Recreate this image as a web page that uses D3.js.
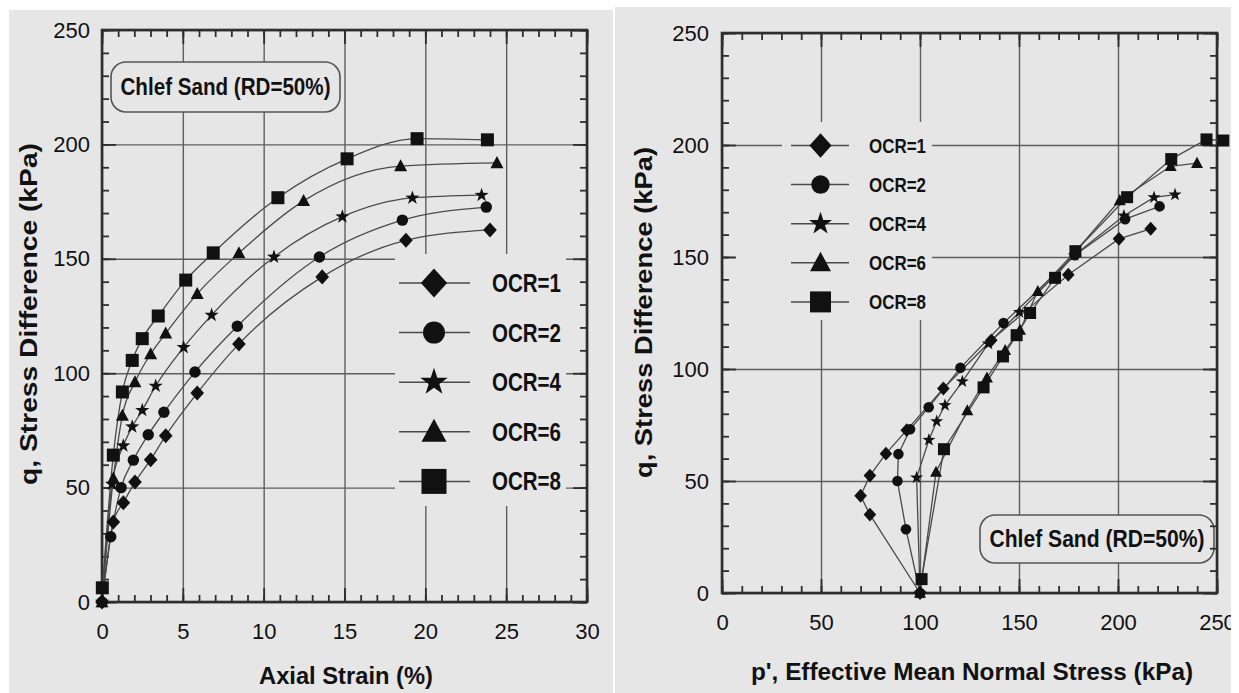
<!DOCTYPE html>
<html>
<head>
<meta charset="utf-8">
<script src="https://cdn.jsdelivr.net/npm/d3@7"></script>
<style>
  html, body { margin: 0; padding: 0; background: #ffffff; }
  svg { display: block; }
</style>
</head>
<body>
<svg id="chart" width="1239" height="693"></svg>
<script>
// Undrained triaxial tests on Chlef sand (RD = 50%) at five overconsolidation ratios.
// Each test: axial strain (%), deviator stress q (kPa), effective mean stress p' (kPa).

const ocrLabels = ["OCR=1", "OCR=2", "OCR=4", "OCR=6", "OCR=8"];
const markerShapes = ["diamond", "circle", "star", "triangle", "square"];

const strainOCR1 = [0, 0.70, 1.32, 2.04, 3.01, 3.94, 5.89, 8.47, 13.62, 18.80, 24.00];
const qOCR1      = [0, 35.0, 43.4, 52.4, 62.2, 72.7, 91.3, 112.8, 142.1, 158.1, 162.6];
const pOCR1      = [100, 74.7, 70.0, 74.7, 82.8, 93.3, 111.8, 136.0, 174.9, 200.5, 216.5];

const strainOCR2 = [0, 0.54, 1.18, 1.94, 2.86, 3.83, 5.75, 8.37, 13.45, 18.58, 23.77];
const qOCR2      = [0, 28.5, 50.0, 62.0, 73.1, 82.9, 100.5, 120.5, 150.8, 166.9, 172.6];
const pOCR2      = [100, 92.9, 88.6, 89.1, 95.0, 104.4, 120.4, 142.2, 178.2, 203.6, 221.0];

const strainOCR4 = [0, 0.62, 1.32, 1.87, 2.49, 3.32, 5.05, 6.78, 10.64, 14.87, 19.20, 23.48];
const qOCR4      = [0, 51.5, 68.3, 76.6, 83.8, 94.4, 111.3, 125.4, 150.8, 168.4, 176.6, 177.8];
const pOCR4      = [100, 98.3, 104.5, 108.4, 112.6, 121.4, 134.5, 150.2, 178.0, 203.0, 218.2, 228.8];

const strainOCR6 = [0, 0.70, 1.26, 2.04, 3.01, 3.94, 5.89, 8.47, 12.47, 18.47, 24.43];
const qOCR6      = [0, 54.0, 81.5, 96.1, 108.4, 117.4, 134.7, 152.5, 175.3, 190.5, 191.9];
const pOCR6      = [100, 108.1, 123.9, 133.8, 143.0, 150.5, 159.5, 178.5, 200.9, 226.6, 239.9];

const strainOCR8 = [0.02, 0.70, 1.26, 1.87, 2.49, 3.48, 5.18, 6.88, 10.88, 15.16, 19.49, 23.84];
const qOCR8      = [6.2, 64.2, 91.8, 105.6, 115.1, 125.0, 140.7, 152.6, 176.7, 193.7, 202.5, 202.0];
const pOCR8      = [100.8, 112.1, 132.1, 141.9, 148.8, 155.6, 168.2, 178.5, 204.6, 226.9, 244.7, 253.2];

const strainTicks = [0, 5, 10, 15, 20, 25, 30];
const pTicks = [0, 50, 100, 150, 200, 250];
const qTicks = [0, 50, 100, 150, 200, 250];

const sampleTitle = "Chlef Sand (RD=50%)";
const qAxisTitle = "q, Stress Difference (kPa)";
const strainAxisTitle = "Axial Strain (%)";
const pAxisTitle = "p', Effective Mean Normal Stress (kPa)";

// ---- tests assembled from the arrays above ----
const tests = [
  { strain: strainOCR1, q: qOCR1, p: pOCR1 },
  { strain: strainOCR2, q: qOCR2, p: pOCR2 },
  { strain: strainOCR4, q: qOCR4, p: pOCR4 },
  { strain: strainOCR6, q: qOCR6, p: pOCR6 },
  { strain: strainOCR8, q: qOCR8, p: pOCR8 }
].map((t, i) => ({
  label: ocrLabels[i],
  shape: markerShapes[i],
  points: t.q.map((q, j) => ({ strain: t.strain[j], q: q, p: t.p[j] }))
}));

// ---- styling ----
const BG = "#e6e6e6";
const INK = "#111111";
const FRAME = "#2e2e2e";
const GRID = "#5e5e5e";
const CURVE = "#4a4a4a";
const NARROW = "'Liberation Sans Narrow','Arial Narrow','Liberation Sans',Arial,sans-serif";
const SANS = "'Liberation Sans',Arial,Helvetica,sans-serif";

// marker path generator; s = nominal half size
function markerPath(shape, s) {
  switch (shape) {
    case "square":
      return `M${-s},${-s}H${s}V${s}H${-s}Z`;
    case "diamond":
      return `M0,${-s * 1.1}L${s},0L0,${s * 1.1}L${-s},0Z`;
    case "circle":
      return `M${s},0A${s},${s} 0 1,1 ${-s},0A${s},${s} 0 1,1 ${s},0Z`;
    case "triangle":
      return `M0,${-s * 1.05}L${s},${s * 0.8}L${-s},${s * 0.8}Z`;
    case "star": {
      const pts = [];
      for (let k = 0; k < 10; k++) {
        const r = k % 2 === 0 ? s * 1.15 : s * 0.45;
        const a = -Math.PI / 2 + k * Math.PI / 5;
        pts.push([r * Math.cos(a), r * Math.sin(a)]);
      }
      return "M" + pts.map(d => d[0].toFixed(2) + "," + d[1].toFixed(2)).join("L") + "Z";
    }
  }
  return "";
}
const markerScale = { square: 1.0, diamond: 1.05, circle: 0.88, triangle: 1.0, star: 1.0 };

const svg = d3.select("#chart");

// panel backgrounds
svg.append("rect").attr("x", 9).attr("y", 10).attr("width", 604).attr("height", 683).attr("fill", BG);
svg.append("rect").attr("x", 615).attr("y", 7).attr("width", 616).attr("height", 686).attr("fill", BG);

svg.append("clipPath").attr("id", "rightClip")
  .append("rect").attr("x", 615).attr("y", 0).attr("width", 616).attr("height", 693);

function drawPanel(cfg) {
  const g = svg.append("g");
  if (cfg.clip) g.attr("clip-path", `url(#${cfg.clip})`);

  const x = d3.scaleLinear().domain(cfg.xDomain).range([cfg.left, cfg.right]);
  const y = d3.scaleLinear().domain([0, 250]).range([cfg.bottom, cfg.top]);
  const w = cfg.right - cfg.left, h = cfg.bottom - cfg.top;

  // grid
  const grid = g.append("g");
  grid.append("g").attr("transform", `translate(0,${cfg.bottom})`)
    .call(d3.axisBottom(x).tickValues(cfg.xTicks).tickSize(-h).tickFormat(""));
  grid.append("g").attr("transform", `translate(${cfg.left},0)`)
    .call(d3.axisLeft(y).tickValues(qTicks).tickSize(-w).tickFormat(""));
  grid.selectAll("path.domain").remove();
  grid.selectAll("line").attr("stroke", GRID).attr("stroke-width", 1.4);

  // legend backing (hides the grid behind the key)
  cfg.legendBacks.forEach(r => {
    g.append("rect").attr("x", r[0]).attr("y", r[1]).attr("width", r[2]).attr("height", r[3]).attr("fill", BG);
  });

  // sample label box
  const b = cfg.titleBox;
  g.append("rect").attr("x", b.x).attr("y", b.y).attr("width", b.w).attr("height", b.h)
    .attr("rx", 15).attr("ry", 15)
    .attr("fill", BG).attr("stroke", "#555").attr("stroke-width", 1.6);
  g.append("text").attr("x", b.x + b.w / 2).attr("y", b.y + b.h / 2)
    .attr("text-anchor", "middle").attr("dominant-baseline", "central")
    .attr("font-family", NARROW).attr("font-weight", "bold").attr("font-size", 23)
    .attr("textLength", b.tw).attr("lengthAdjust", "spacingAndGlyphs")
    .attr("fill", INK).text(sampleTitle);

  // ticks: minor and major, all pointing inward on every side
  const ticks = g.append("g");
  const xMinor = d3.range(cfg.xDomain[0], cfg.xDomain[1] + 1e-9, cfg.xMinorStep);
  const yMinor = d3.range(0, 250 + 1e-9, 10);
  const addAxis = (axis, tr) => {
    const a = ticks.append("g").attr("transform", tr).call(axis);
    a.selectAll("path.domain").remove();
    a.selectAll("line").attr("stroke", FRAME).attr("stroke-width", 1.8);
    return a;
  };
  addAxis(d3.axisBottom(x).tickValues(xMinor).tickSize(-7).tickFormat(""), `translate(0,${cfg.bottom})`);
  addAxis(d3.axisTop(x).tickValues(xMinor).tickSize(-7).tickFormat(""), `translate(0,${cfg.top})`);
  addAxis(d3.axisLeft(y).tickValues(yMinor).tickSize(-7).tickFormat(""), `translate(${cfg.left},0)`);
  addAxis(d3.axisRight(y).tickValues(yMinor).tickSize(-7).tickFormat(""), `translate(${cfg.right},0)`);
  addAxis(d3.axisTop(x).tickValues(cfg.xTicks).tickSize(-14).tickFormat(""), `translate(0,${cfg.top})`);
  addAxis(d3.axisRight(y).tickValues(qTicks).tickSize(-14).tickFormat(""), `translate(${cfg.right},0)`);

  const xa = addAxis(d3.axisBottom(x).tickValues(cfg.xTicks).tickSize(-14).tickPadding(21).tickFormat(d3.format("d")),
    `translate(0,${cfg.bottom})`);
  const ya = addAxis(d3.axisLeft(y).tickValues(qTicks).tickSize(-14).tickPadding(cfg.yPad).tickFormat(d3.format("d")),
    `translate(${cfg.left},0)`);
  [xa, ya].forEach(a => a.selectAll("text")
    .attr("font-family", SANS).attr("font-size", 22).attr("fill", INK));

  // frame
  g.append("rect").attr("x", cfg.left).attr("y", cfg.top).attr("width", w).attr("height", h)
    .attr("fill", "none").attr("stroke", FRAME).attr("stroke-width", 2.6);

  // test curves
  const line = d3.line().x(d => x(d[cfg.xKey])).y(d => y(d.q)).curve(cfg.curve);
  tests.forEach(t => {
    g.append("path").attr("d", line(t.points))
      .attr("fill", "none").attr("stroke", CURVE).attr("stroke-width", 1.3);
  });
  tests.forEach(t => {
    g.selectAll(null).data(t.points).enter().append("path")
      .attr("transform", d => `translate(${x(d[cfg.xKey])},${y(d.q)})`)
      .attr("d", markerPath(t.shape, cfg.markerSize * markerScale[t.shape]))
      .attr("fill", INK);
  });

  // key
  const L = cfg.legend;
  tests.forEach((t, i) => {
    const ly = L.y0 + i * L.dy;
    g.append("line").attr("x1", L.x1).attr("x2", L.x2).attr("y1", ly).attr("y2", ly)
      .attr("stroke", CURVE).attr("stroke-width", 1.5);
    g.append("path").attr("transform", `translate(${L.mx},${ly})`)
      .attr("d", markerPath(t.shape, L.size * markerScale[t.shape])).attr("fill", INK);
    g.append("text").attr("x", L.tx).attr("y", ly).attr("dominant-baseline", "central")
      .attr("font-family", NARROW).attr("font-weight", "bold").attr("font-size", L.font)
      .attr("textLength", L.tw).attr("lengthAdjust", "spacingAndGlyphs")
      .attr("fill", INK).text(t.label);
  });

  // axis titles
  g.append("text").attr("x", (cfg.xTitle.x0 + cfg.xTitle.x1) / 2).attr("y", cfg.xTitle.y)
    .attr("text-anchor", "middle").attr("dominant-baseline", "central")
    .attr("font-family", NARROW).attr("font-weight", "bold").attr("font-size", 24)
    .attr("textLength", cfg.xTitle.x1 - cfg.xTitle.x0).attr("lengthAdjust", "spacingAndGlyphs")
    .attr("fill", INK).text(cfg.xTitle.text);
  g.append("text")
    .attr("transform", `translate(${cfg.yTitle.x},${(cfg.yTitle.y0 + cfg.yTitle.y1) / 2}) rotate(-90)`)
    .attr("text-anchor", "middle").attr("dominant-baseline", "central")
    .attr("font-family", NARROW).attr("font-weight", "bold").attr("font-size", 24)
    .attr("textLength", cfg.yTitle.y1 - cfg.yTitle.y0).attr("lengthAdjust", "spacingAndGlyphs")
    .attr("fill", INK).text(qAxisTitle);
}

// left: q against axial strain
drawPanel({
  left: 102, right: 587, top: 30, bottom: 602,
  xDomain: [0, 30], xTicks: strainTicks, xMinorStep: 1, xKey: "strain",
  curve: d3.curveMonotoneX, markerSize: 6.5, yPad: 12,
  legendBacks: [[395, 254, 171, 252]],
  titleBox: { x: 111, y: 62, w: 229, h: 50, tw: 210 },
  legend: { y0: 283, dy: 49.6, x1: 399, x2: 470, mx: 434, size: 12.5, tx: 492, tw: 69, font: 25 },
  xTitle: { x0: 259, x1: 433, y: 675, text: strainAxisTitle },
  yTitle: { x: 28, y0: 143, y1: 485 }
});

// right: effective stress path
drawPanel({
  left: 722, right: 1217, top: 33, bottom: 593,
  xDomain: [0, 250], xTicks: pTicks, xMinorStep: 10, xKey: "p",
  curve: d3.curveLinear, markerSize: 6, yPad: 13, clip: "rightClip",
  legendBacks: [[782, 122, 150, 198], [735, 150, 197, 170]],
  titleBox: { x: 980, y: 515, w: 234, h: 48, tw: 215 },
  legend: { y0: 145.5, dy: 39.1, x1: 791, x2: 849, mx: 820.5, size: 10.5, tx: 869, tw: 57, font: 20 },
  xTitle: { x0: 751, x1: 1193, y: 671, text: pAxisTitle },
  yTitle: { x: 643, y0: 147, y1: 478 }
});
</script>
</body>
</html>
